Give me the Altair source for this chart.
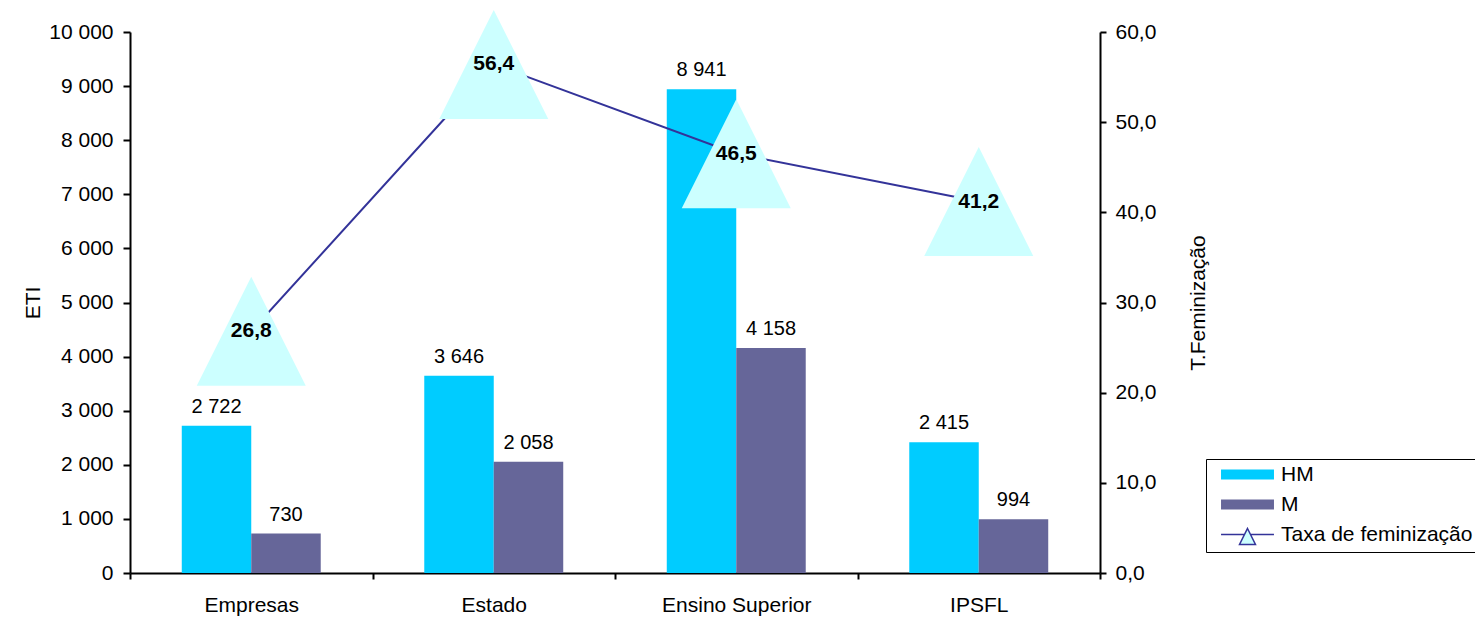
import altair as alt
import pandas as pd

categories = ["Empresas", "Estado", "Ensino Superior", "IPSFL"]
hm_values = [2722, 3646, 8941, 2415]
m_values = [730, 2058, 4158, 994]
taxa_values = [26.8, 56.4, 46.5, 41.2]
series_names = ["HM", "M", "Taxa de feminização"]
eti_ticks = [0, 1000, 2000, 3000, 4000, 5000, 6000, 7000, 8000, 9000, 10000]
taxa_ticks = [0, 10, 20, 30, 40, 50, 60]

FONT = "Liberation Sans"

rows = []
for c, h, mm in zip(categories, hm_values, m_values):
    rows.append({"cat": c, "serie": "HM", "valor": h})
    rows.append({"cat": c, "serie": "M", "valor": mm})
bars_df = pd.DataFrame(rows)
bars_df["rotulo"] = bars_df["valor"].map(lambda v: f"{v:,}".replace(",", " "))

taxa_df = pd.DataFrame({"cat": categories, "taxa": taxa_values})
taxa_df["rotulo"] = taxa_df["taxa"].map(lambda v: f"{v:.1f}".replace(".", ","))

legend_df = pd.DataFrame({"serie": series_names})

# shapes
RECT = "M-2.45,-0.4L2.45,-0.4L2.45,0.4L-2.45,0.4Z"
LINE_TRI = "M-2.52,0L-0.29,0M0.29,0L2.52,0M0,-0.57L0.76,0.95L-0.76,0.95Z"
BIG_TRI = "M0,-1L1,1L-1,1Z"

x_scale = alt.Scale(domain=categories, paddingInner=0, paddingOuter=0)
x_axis = alt.Axis(title=None, tickBand="extent", labelAngle=0, labelPadding=15,
                  tickSize=6, grid=False)
x_enc = alt.X("cat:N", sort=categories, scale=x_scale, axis=x_axis)

xoff = alt.XOffset("serie:N", sort=["HM", "M"],
                   scale=alt.Scale(domain=["HM", "M"], paddingOuter=0.745, paddingInner=0))

fill_scale = alt.Scale(domain=series_names, range=["#00CCFF", "#666699", "#CCFFFF"])
stroke_scale = alt.Scale(domain=series_names, range=["#00CCFF", "#666699", "#333399"])
shape_scale = alt.Scale(domain=series_names, range=[RECT, RECT, LINE_TRI])

legend = alt.Legend(
    title=None, orient="none", legendX=1076, legendY=427, padding=4,
    strokeColor="black", fillColor="white", labelFont=FONT, labelFontSize=21,
    labelColor="black", symbolSize=441, symbolOffset=26, labelOffset=22,
    rowPadding=8, symbolStrokeWidth=1.5, symbolOpacity=1, labelLimit=400,
)

y_left = alt.Y(
    "valor:Q",
    scale=alt.Scale(domain=[0, 10000], nice=False),
    axis=alt.Axis(values=eti_ticks, orient="left",
                  labelExpr="replace(format(datum.value, ','), ',', ' ')",
                  title="ETI", grid=False, tickSize=7, labelPadding=10, titlePadding=5),
)

bars = alt.Chart(bars_df).mark_bar().encode(
    x=x_enc, xOffset=xoff, y=y_left,
    fill=alt.Fill("serie:N", scale=fill_scale, legend=legend),
)
bar_text = alt.Chart(bars_df).mark_text(
    dy=-13, baseline="alphabetic", fontSize=20, font=FONT, color="black"
).encode(x=x_enc, xOffset=xoff, y=y_left, text="rotulo:N")

legend_layer = alt.Chart(legend_df).mark_point(opacity=0, filled=True, size=441).encode(
    fill=alt.Fill("serie:N", scale=fill_scale, legend=legend),
    stroke=alt.Stroke("serie:N", scale=stroke_scale, legend=legend),
    shape=alt.Shape("serie:N", scale=shape_scale, legend=legend),
)

left = alt.layer(bars, bar_text, legend_layer)

y_right = alt.Y(
    "taxa:Q",
    scale=alt.Scale(domain=[0, 60], nice=False),
    axis=alt.Axis(orient="right", values=taxa_ticks,
                  labelExpr="replace(format(datum.value, '.1f'), '.', ',')",
                  title="T.Feminização", titleAngle=270, titleBaseline="top",
                  titlePadding=32, grid=False, tickSize=6, labelPadding=9),
)

line = alt.Chart(taxa_df).mark_line(color="#333399", strokeWidth=2).encode(x=x_enc, y=y_right)
tri = alt.Chart(taxa_df).mark_point(
    shape=BIG_TRI, filled=True, fill="#CCFFFF", size=11881, opacity=1, strokeWidth=0
).encode(x=x_enc, y=y_right)
tri_text = alt.Chart(taxa_df).mark_text(
    fontSize=21, fontWeight="bold", font=FONT, color="black", baseline="middle", align="center"
).encode(x=x_enc, y=y_right, text="rotulo:N")

right = alt.layer(line, tri, tri_text)

chart = alt.layer(left, right).resolve_scale(y="independent").properties(
    width=970, height=541,
    padding={"left": 130, "top": 32, "right": 375, "bottom": 45},
    autosize=alt.AutoSizeParams(type="none"),
    background="white",
).configure_view(stroke=None).configure_axis(
    labelFont=FONT, labelFontSize=21, titleFont=FONT, titleFontSize=21,
    titleFontWeight="normal", labelColor="black", titleColor="black",
    domainColor="black", tickColor="black", domainWidth=2, tickWidth=2,
)

chart.save("out.html", embed_options={"renderer": "svg", "actions": False})
